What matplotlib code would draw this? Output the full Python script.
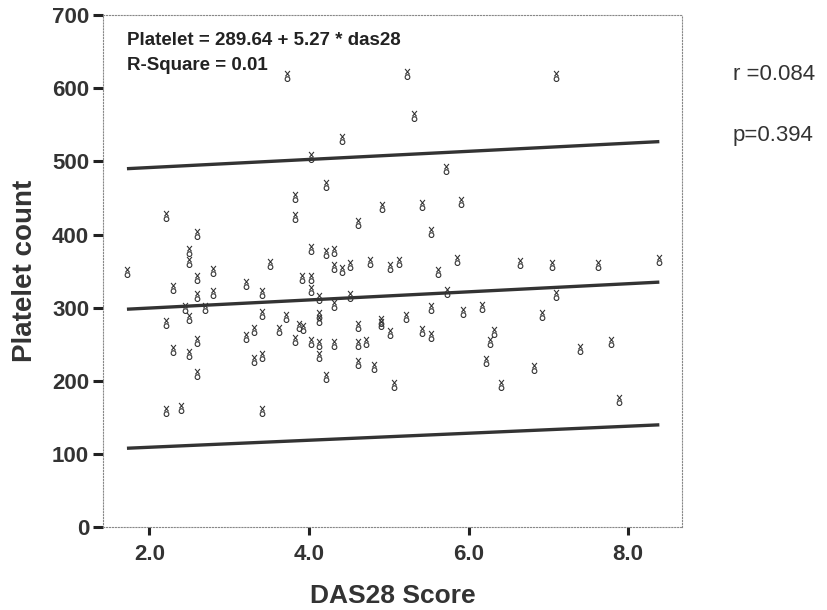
import matplotlib; matplotlib.use("Agg")
import matplotlib.pyplot as plt
import numpy as np
from matplotlib.path import Path

# DAS28 score vs platelet count
das28 = [3.72, 5.23, 5.32, 4.42, 4.02, 4.22, 5.72, 3.82,
         1.72, 2.21, 2.60, 2.50, 2.50, 2.60, 2.80, 2.30, 2.60, 2.80,
         2.45, 2.70, 2.21, 2.50, 2.30, 2.50, 2.60, 2.60, 2.21, 2.40,
         3.21, 3.51, 3.41, 3.41, 3.21, 3.31, 3.31, 3.41, 3.41, 3.82,
         4.02, 4.22, 4.32, 4.32, 4.42, 4.52, 3.91, 4.02, 4.02, 4.12,
         4.32, 4.52, 4.12, 4.12, 3.71, 3.62, 3.88, 3.93, 3.82, 4.02,
         4.12, 4.12, 4.32, 4.22, 4.62, 4.92, 5.42, 5.53, 4.77, 5.02,
         5.13, 5.62, 5.85, 5.73, 5.53, 4.62, 4.90, 4.90, 5.02, 5.22,
         5.42, 5.53, 4.62, 4.72, 4.62, 4.82, 5.07,
         7.10, 5.90, 6.64, 7.05, 7.62, 8.39, 7.09, 5.93, 6.17, 6.92,
         6.32, 6.27, 7.39, 7.79, 6.22, 6.82, 6.41, 7.89]
platelet = [616, 619, 562, 530, 506, 468, 490, 451,
            349, 426, 401, 378, 362, 340, 350, 327, 316, 320,
            300, 299, 279, 286, 242, 237, 254, 209, 159, 163,
            333, 360, 320, 292, 260, 269, 228, 234, 159, 424,
            380, 375, 377, 355, 352, 358, 340, 340, 324, 313,
            304, 316, 290, 283, 287, 269, 275, 272, 256, 253,
            250, 234, 250, 206, 416, 438, 440, 404, 363, 356,
            363, 349, 365, 322, 300, 275, 282, 278, 266, 287,
            268, 261, 250, 253, 224, 219, 194,
            616, 444, 361, 358, 358, 365, 317, 294, 301, 290,
            267, 253, 244, 253, 227, 217, 194, 174]

# fit line and 95% prediction limits, endpoints
line_x = [1.72, 8.39]
fit_y = [298, 335]
upper_y = [490, 527]
lower_y = [108, 140]

# SPSS-style "x over o" symbol
circ = Path.circle((0, -0.45), 0.4)
cross = Path([(-0.42, 0.95), (0.36, 0.02), (0.42, 0.95), (-0.36, 0.02)],
             [Path.MOVETO, Path.LINETO, Path.MOVETO, Path.LINETO])
sym = Path.make_compound_path(circ, cross)

plt.rcParams['font.family'] = ['Liberation Sans', 'DejaVu Sans']
fig = plt.figure(figsize=(8.28, 6.10), dpi=100)
ax = fig.add_axes([0.1244, 0.1356, 0.6989, 0.8398])

ax.plot(das28, platelet, ls="none", marker=sym, ms=8, mfc="none",
        mec="#333333", mew=0.8)
for yy in (upper_y, fit_y, lower_y):
    ax.plot(line_x, yy, color="#333333", lw=2.4, solid_capstyle="butt")

ax.set_xlim(1.42, 8.67)
ax.set_ylim(0, 700)
ax.set_xticks([2, 4, 6, 8])
ax.set_xticklabels(["2.0", "4.0", "6.0", "8.0"])
ax.set_yticks(range(0, 701, 100))
for s in ax.spines.values():
    s.set_linestyle(":"); s.set_linewidth(0.8); s.set_color("#888888")
ax.tick_params(axis="y", direction="out", length=7, width=2.2, color="#222222",
               labelsize=16, pad=3)
ax.tick_params(axis="x", direction="out", length=6, width=2.2, color="#222222",
               labelsize=16, pad=6)
for lab in ax.get_xticklabels() + ax.get_yticklabels():
    lab.set_fontweight("bold"); lab.set_color("#333333")

ax.set_xlabel("DAS28 Score", fontsize=19, fontweight="bold", color="#333333", labelpad=14)
ax.set_ylabel("Platelet count", fontsize=20, fontweight="bold", color="#333333", labelpad=10)

ax.text(0.041, 0.9414, "Platelet = 289.64 + 5.27 * das28", transform=ax.transAxes,
        fontsize=13.5, fontweight="bold", color="#222222", va="baseline")
ax.text(0.041, 0.8926, "R-Square = 0.01", transform=ax.transAxes,
        fontsize=13.5, fontweight="bold", color="#222222", va="baseline")

fig.text(0.885, 0.869, "r =0.084", fontsize=16, color="#333333", va="baseline")
fig.text(0.885, 0.769, "p=0.394", fontsize=16, color="#333333", va="baseline")

fig.savefig("out.png", dpi=100)
